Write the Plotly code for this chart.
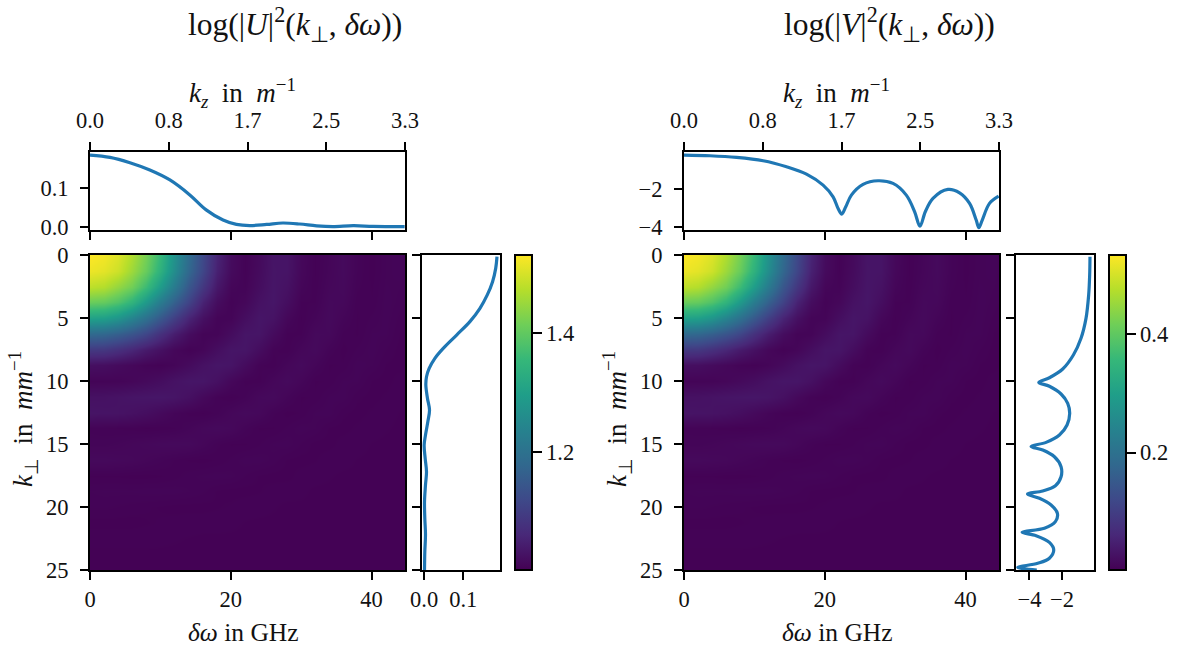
import plotly.graph_objects as go

# ---------- data ----------
detuning_ghz = [0, 2, 4, 6, 8, 10, 12, 14, 16, 18, 20, 22, 24, 26, 28, 30, 32, 34, 36, 38, 40, 42, 44, 46]
k_perp = [0, 1.25, 2.5, 3.75, 5, 6.25, 7.5, 8.75, 10, 11.25, 12.5, 13.75, 15, 16.25, 17.5, 18.75, 20, 21.25, 22.5, 23.75, 25]
# colour level of each map cell, 0 = bottom of colour bar, 1 = top
map_level = [
    [1.00, .985, .950, .880, .790, .670, .510, .350, .220, .100, .030, .006, .025, .055, .055, .020, .004, .014, .025, .010, .003, .010, .012, .004],
    [.975, .960, .925, .850, .765, .640, .490, .330, .210, .090, .027, .007, .028, .056, .054, .019, .004, .015, .025, .010, .003, .010, .012, .004],
    [.900, .885, .835, .780, .680, .550, .415, .270, .160, .064, .015, .010, .034, .058, .046, .014, .005, .018, .023, .008, .004, .011, .010, .0035],
    [.770, .760, .720, .650, .540, .420, .310, .200, .095, .033, .008, .018, .046, .059, .036, .007, .007, .022, .020, .005, .005, .012, .009, .003],
    [.570, .560, .520, .450, .370, .280, .190, .100, .043, .011, .011, .036, .058, .050, .018, .004, .013, .024, .013, .004, .008, .012, .006, .003],
    [.340, .330, .300, .260, .210, .140, .080, .033, .010, .011, .032, .056, .056, .028, .006, .007, .022, .021, .006, .004, .011, .011, .004, .003],
    [.165, .160, .135, .105, .070, .043, .018, .006, .015, .036, .056, .057, .033, .008, .005, .017, .024, .010, .003, .008, .012, .007, .003, .005],
    [.040, .037, .028, .019, .010, .006, .013, .028, .046, .058, .054, .030, .008, .005, .016, .025, .014, .004, .005, .012, .010, .004, .003, .007],
    [.009, .010, .011, .016, .024, .034, .048, .058, .058, .043, .019, .006, .006, .017, .025, .015, .004, .005, .011, .011, .004, .003, .006, .007],
    [.045, .046, .050, .055, .058, .060, .055, .042, .022, .008, .004, .010, .021, .024, .013, .004, .005, .011, .012, .005, .003, .005, .007, .004],
    [.054, .052, .050, .044, .036, .024, .013, .006, .004, .009, .018, .024, .020, .008, .003, .005, .011, .012, .005, .003, .005, .007, .004, .003],
    [.009, .008, .007, .006, .004, .005, .007, .013, .020, .024, .021, .011, .004, .004, .008, .012, .010, .004, .003, .005, .007, .005, .003, .003],
    [.012, .012, .014, .017, .020, .023, .024, .023, .016, .008, .004, .004, .007, .011, .012, .007, .003, .003, .006, .007, .004, .003, .003, .003],
    [.023, .023, .021, .019, .015, .011, .007, .004, .003, .005, .008, .012, .012, .009, .004, .003, .004, .007, .007, .004, .003, .003, .003, .003],
    [.004, .004, .004, .003, .003, .004, .006, .009, .011, .012, .011, .007, .004, .003, .003, .006, .007, .005, .003, .003, .003, .003, .003, .003],
    [.010, .011, .011, .011, .012, .012, .012, .010, .008, .004, .003, .003, .004, .006, .007, .006, .003, .003, .003, .003, .003, .003, .003, .003],
    [.008, .008, .007, .006, .005, .004, .003, .003, .003, .004, .005, .007, .007, .005, .003, .003, .003, .003, .003, .003, .003, .003, .003, .003],
    [.003, .003, .003, .003, .004, .005, .006, .007, .007, .007, .006, .004, .003, .003, .003, .003, .003, .003, .003, .003, .003, .003, .003, .003],
    [.007, .007, .007, .007, .007, .006, .005, .004, .003, .003, .003, .003, .003, .003, .003, .003, .003, .003, .003, .003, .003, .003, .003, .003],
    [.003, .003, .003, .003, .003, .003, .003, .003, .003, .003, .003, .003, .003, .003, .003, .003, .003, .003, .003, .003, .003, .003, .003, .003],
    [.003, .003, .003, .003, .003, .003, .003, .003, .003, .003, .003, .003, .003, .003, .003, .003, .003, .003, .003, .003, .003, .003, .003, .003],
]
u_color_limits = [1.003, 1.530]
v_color_limits = [0.002, 0.533]

u_top_x = [0, 2.84, 5.67, 8.5, 11.35, 14.18, 16.5, 18.9, 20.8, 22.7, 25.1, 27.4, 29.8, 32.2, 34.5, 37.4, 40.2, 44.7]
u_top_y = [.187, .181, .167, .148, .122, .083, .044, .0175, .006, .003, .006, .0097, .007, .002, 0.0, .0026, .0009, 0.0]

u_side_k = [.13, 1.06, 2.12, 3.17, 4.23, 5.29, 6.35, 7.41, 8.2, 9.0, 9.66, 10.32, 11.38, 12.3, 13.23, 14.29, 15.08, 16.14, 17.2, 18.25, 19.58, 20.9, 22.2, 23.55, 25]
u_side_x = [.1863, .183, .175, .1615, .1427, .117, .083, .0487, .0274, .0128, .006, .0043, .0085, .0137, .0094, .0034, 0, .0026, .006, .0034, .0009, .0017, .0034, .0017, .0009]

v_top_x = [0, 3.69, 7.47, 11.25, 14.56, 17.4, 19.76, 21.18, 21.89, 22.41, 22.98, 23.78, 25.44, 27.56, 29.69, 31.58, 32.77, 33.52, 34.28, 35.37, 37.49, 39.15, 40.57, 41.51, 41.89, 42.37, 43.4, 44.7]
v_top_y = [-.24, -.275, -.362, -.536, -.85, -1.232, -1.807, -2.418, -3.025, -3.32, -2.94, -2.33, -1.77, -1.58, -1.72, -2.33, -3.2, -3.95, -3.2, -2.5, -2.03, -2.21, -2.76, -3.63, -4.03, -3.63, -2.76, -2.38]

v_side_k = [.13, 1.59, 3.17, 5.03, 6.61, 7.94, 9.05, 9.74, 10.11, 10.42, 11.03, 11.77, 12.57, 13.49, 14.29, 14.87, 15.19, 15.48, 16.01, 16.8, 17.6, 18.31, 18.73, 18.97, 19.31, 19.84, 20.5, 21.16, 21.69, 22.01, 22.28, 22.81, 23.41, 24.07, 24.47, 24.79, 25]
v_side_x = [-.286, -.306, -.367, -.531, -.837, -1.306, -1.959, -2.776, -3.429, -2.776, -2.061, -1.653, -1.531, -1.694, -2.163, -2.98, -3.898, -3.184, -2.469, -2.061, -2.061, -2.408, -3.184, -4.122, -3.388, -2.673, -2.286, -2.408, -3.082, -4.449, -3.592, -2.776, -2.51, -2.776, -3.49, -4.714, -3.551]

kz_ticks = [0, 0.825, 1.65, 2.475, 3.3]
kz_labels = ["0.0", "0.8", "1.7", "2.5", "3.3"]

# ---------- layout constants (pixels) ----------
W, H = 1188, 648
FONT = "Liberation Serif"
TICK = 22.5
LABEL = 25.5
BLUE = "#1f77b4"


def fx(a, b):
    return [a / W, b / W]


def fy(top, bottom):
    return [1 - bottom / H, 1 - top / H]


axis_style = dict(showline=True, linecolor="black", linewidth=2, mirror=True, ticks="outside",
                  ticklen=8, tickwidth=1.5, tickcolor="black", showgrid=False, zeroline=False, automargin=False,
                  tickfont=dict(family=FONT, size=TICK, color="#111"))


def group(fig, n, left, limits, top_x, top_y, top_range, top_ticks, top_labels,
          side_k, side_x, side_range, side_ticks, side_labels, title, cbar_ticks, cbar_labels):
    s = {i: ("" if n + i == 0 else str(n + i + 1)) for i in range(4)}
    hx0, hx1 = left, left + 315
    sx0, sx1 = left + 331.5, left + 410
    cx0 = left + 424.5
    low, high = limits
    z = [[low + (high - low) * c for c in row] for row in map_level]
    fig.add_trace(go.Heatmap(
        x=detuning_ghz, y=k_perp, z=z, colorscale="Viridis", zmin=low, zmax=high, zsmooth="best",
        xaxis="x" + s[0], yaxis="y" + s[0], hoverinfo="skip",
        colorbar=dict(x=cx0 / W, xanchor="left", xpad=0, y=1 - 570 / H, yanchor="bottom", ypad=0,
                      len=315 / H, lenmode="fraction", thickness=17, outlinewidth=2, outlinecolor="black",
                      ticks="outside", ticklen=9, tickwidth=1.5, tickcolor="black",
                      tickvals=cbar_ticks, ticktext=cbar_labels,
                      tickfont=dict(family=FONT, size=TICK, color="#111"))))
    fig.add_trace(go.Scatter(x=top_x, y=top_y, mode="lines", line=dict(color=BLUE, width=3.2, shape="spline", smoothing=1.0),
                             xaxis="x" + s[1], yaxis="y" + s[1], showlegend=False, hoverinfo="skip"))
    fig.add_trace(go.Scatter(x=[kz_ticks[0], kz_ticks[-1]], y=[None, None], mode="lines",
                             xaxis="x" + s[2], yaxis="y" + s[1], showlegend=False, hoverinfo="skip"))
    fig.add_trace(go.Scatter(x=side_x, y=side_k, mode="lines", line=dict(color=BLUE, width=3.2, shape="spline", smoothing=1.0),
                             xaxis="x" + s[3], yaxis="y" + s[3], showlegend=False, hoverinfo="skip"))

    k_vals = [0, 5, 10, 15, 20, 25]
    xrange_w = [0, 44.75]
    u = {}
    u["xaxis" + s[0]] = dict(axis_style, domain=fx(hx0, hx1), range=xrange_w, anchor="y" + s[0],
                             tickvals=[0, 20, 40], ticktext=["0", "20", "40"])
    u["yaxis" + s[0]] = dict(axis_style, domain=fy(255, 570), range=[25, 0], anchor="x" + s[0],
                             tickvals=k_vals, ticktext=[str(v) for v in k_vals], ticklabelstandoff=7)
    u["xaxis" + s[1]] = dict(axis_style, domain=fx(hx0, hx1), range=xrange_w, anchor="y" + s[1],
                             tickvals=[0, 20, 40], showticklabels=False)
    u["yaxis" + s[1]] = dict(axis_style, domain=fy(152, 230), range=top_range, anchor="x" + s[1],
                             tickvals=top_ticks, ticktext=top_labels, ticklabelstandoff=7)
    u["xaxis" + s[2]] = dict(axis_style, domain=fx(hx0, hx1), range=[kz_ticks[0], kz_ticks[-1]], anchor="y" + s[1],
                             overlaying="x" + s[1], side="top", tickvals=kz_ticks, ticktext=kz_labels,
                             ticklabelstandoff=5)
    u["xaxis" + s[3]] = dict(axis_style, domain=fx(sx0, sx1), range=side_range, anchor="y" + s[3],
                             tickvals=side_ticks, ticktext=side_labels)
    u["yaxis" + s[3]] = dict(axis_style, domain=fy(255, 570), range=[25, 0], anchor="x" + s[3],
                             tickvals=k_vals, showticklabels=False)
    fig.update_layout(**u)

    def note(px, py, text, size, angle=0):
        fig.add_annotation(x=px / W, y=1 - py / H, xref="paper", yref="paper", text=text, showarrow=False,
                           textangle=angle, font=dict(family=FONT, size=size, color="#111"),
                           xanchor="center", yanchor="middle")

    note(left + 205, 25, title, 31.5)
    note(left + 152, 93, "<i>k<sub>z</sub></i>\u00a0 in \u00a0<i>m</i><sup>−1</sup>", 27)
    note(left + 153, 632, "<i>δω</i> in GHz", LABEL)
    note(left - 67, 419, "<i>k</i><sub>⊥</sub>\u00a0 in \u00a0<i>mm</i><sup>−1</sup>", 27, -90)


fig = go.Figure()
group(fig, 0, 90, u_color_limits, u_top_x, u_top_y, [-0.0086, 0.195], [0.0, 0.1], ["0.0", "0.1"],
      u_side_k, u_side_x, [-0.0068, 0.194], [0.0, 0.1], ["0.0", "0.1"],
      "log(|<i>U</i>|<sup>2</sup>(<i>k</i><sub>⊥</sub>, <i>δω</i>))", [1.2, 1.4], ["1.2", "1.4"])
group(fig, 4, 684, v_color_limits, v_top_x, v_top_y, [-4.15, -0.08], [-4, -2], ["−4", "−2"],
      v_side_k, v_side_x, [-4.857, -0.04], [-4, -2], ["−4", "−2"],
      "log(|<i>V</i>|<sup>2</sup>(<i>k</i><sub>⊥</sub>, <i>δω</i>))", [0.2, 0.4], ["0.2", "0.4"])

fig.update_layout(width=W, height=H, margin=dict(l=0, r=0, t=0, b=0), paper_bgcolor="white", plot_bgcolor="white",
                  showlegend=False, font=dict(family=FONT, color="#111"))
fig.write_html("out.html", config={"displayModeBar": False},
               post_script="document.body.style.margin='0';document.body.style.overflow='hidden';")
